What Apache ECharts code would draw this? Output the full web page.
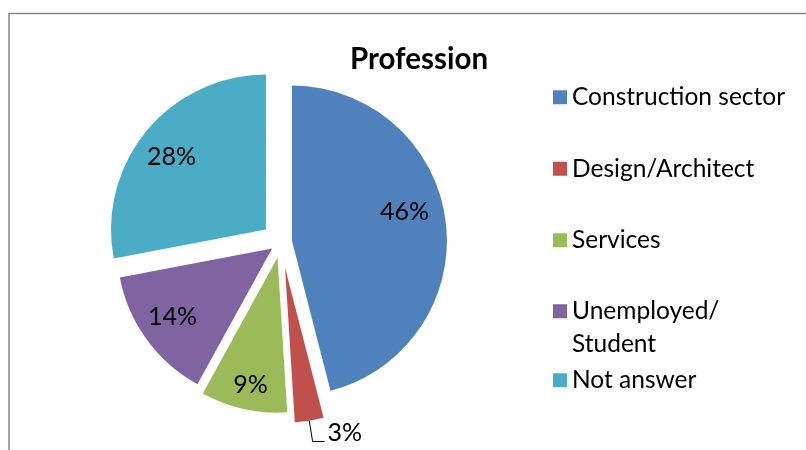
<!DOCTYPE html>
<html>
<head>
<meta charset="utf-8">
<script src="https://cdn.jsdelivr.net/npm/echarts@6/dist/echarts.min.js"></script>
<style>
  html, body { margin: 0; padding: 0; background: #ffffff; }
  #chart { width: 806px; height: 450px; }
</style>
</head>
<body>
<div id="chart"></div>
<script>
// Survey answers: share of respondents by profession (%)
const categories = ['Construction sector', 'Design/Architect', 'Services', 'Unemployed/Student', 'Not answer'];
const shares = [46, 3, 9, 14, 28];
const colors = ['#4F81BD', '#C0504D', '#9BBB59', '#8064A2', '#4BACC6'];

// How far each slice is pulled out from the centre, where its label ring
// starts (null = label drawn outside with a leader line) and a small nudge
const explode = [11, 26, 16, 11, 19.5];
const labelInner = [70, null, 100, 83, 79];
const labelNudge = [[-2, -14], [0, 0], [1.5, 0], [-1, -3], [-2, 4]];

const FONT = 'Lato, "Open Sans", sans-serif';
const CENTER = [281, 242];
const R = 155;

const chart = echarts.init(document.getElementById('chart'), null, { renderer: 'canvas' });

// One pie per slice so each slice gets its own explode distance;
// the other slices of that pie stay invisible.
function slicePie(i, radius, withLabel) {
  const isOutside = labelInner[i] === null;
  const s = {
    type: 'pie',
    center: CENTER,
    radius: radius,
    startAngle: 90,
    clockwise: true,
    silent: true,
    avoidLabelOverlap: false,
    selectedMode: 'single',
    selectedOffset: explode[i],
    animation: false,
    emphasis: { disabled: true },
    data: categories.map((name, j) => {
      const mine = j === i;
      const item = {
        name: name,
        value: shares[j],
        selected: mine,
        itemStyle: { color: mine && !withLabel ? colors[j] : 'rgba(0,0,0,0)' },
        label: { show: false },
        labelLine: { show: false }
      };
      if (mine && (withLabel || isOutside)) {
        item.label = isOutside ? {
          show: true,
          position: 'outside',
          // second (blank) line lifts the value so it sits on the leader line
          formatter: '{c}%\n ',
          lineHeight: 17,
          color: '#000000',
          fontFamily: FONT,
          fontSize: 25,
          distanceToLabelLine: 3
        } : {
          show: true,
          position: 'inside',
          formatter: '{c}%',
          color: '#000000',
          fontFamily: FONT,
          fontSize: 25
        };
        item.labelLine = {
          show: isOutside,
          length: 21,
          length2: 12,
          smooth: false,
          lineStyle: { color: '#000000', width: 1 }
        };
      }
      return item;
    })
  };
  if (withLabel) {
    s.labelLayout = (p) => (p.dataIndex === i ? { dx: labelNudge[i][0], dy: labelNudge[i][1] } : {});
  }
  return s;
}

const series = [];
categories.forEach((_, i) => {
  series.push(slicePie(i, [0, R], false));
});
categories.forEach((_, i) => {
  if (labelInner[i] !== null) series.push(slicePie(i, [labelInner[i], R], true));
});

const FS = 24.5;
const LINE = 33;
const legendText = { fontFamily: FONT, fontSize: FS, color: '#000000' };
const legendItem = (i) => ({ name: categories[i], itemStyle: { color: colors[i] } });
const legendBase = {
  orient: 'vertical',
  left: 553,
  padding: 0,
  itemWidth: 14,
  itemHeight: 14,
  icon: 'rect',
  selectedMode: false,
  textStyle: legendText
};

chart.setOption({
  backgroundColor: '#ffffff',
  title: {
    text: 'Profession',
    left: 419,
    top: 44,
    textAlign: 'center',
    padding: 0,
    textStyle: { fontFamily: FONT, fontWeight: 'bold', fontSize: 29.5, color: '#000000' }
  },
  legend: [
    Object.assign({}, legendBase, {
      top: 97 - FS / 2,
      itemGap: 71 - FS,
      data: [0, 1, 2].map(legendItem)
    }),
    // wrapped entry: swatch drawn at the top of a tall icon box so it
    // lines up with the first line of text
    Object.assign({}, legendBase, {
      top: 307 - 7 + (47 / 2 - LINE / 2 - FS / 2),
      itemHeight: 47,
      icon: 'path://M0,0h14v14h-14zM0,47h0.01v0.01h-0.01z',
      textStyle: Object.assign({}, legendText, { lineHeight: LINE }),
      formatter: (name) => name.replace('/Student', '/\nStudent'),
      data: [3].map(legendItem)
    }),
    Object.assign({}, legendBase, {
      top: 380 - FS / 2,
      data: [4].map(legendItem)
    })
  ],
  graphic: [
    {
      type: 'rect',
      silent: true,
      shape: { x: 9, y: 13.5, width: 1000, height: 1000 },
      style: { fill: 'none', stroke: '#878787', lineWidth: 1.5 }
    }
  ],
  series: series
});
</script>
</body>
</html>
